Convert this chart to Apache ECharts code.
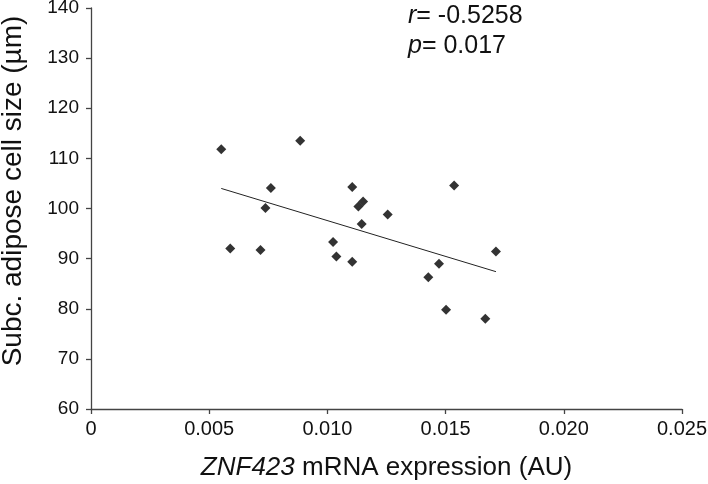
<!DOCTYPE html>
<html>
<head>
<meta charset="utf-8">
<script src="https://cdn.jsdelivr.net/npm/echarts@6/dist/echarts.min.js"></script>
<style>
html,body{margin:0;padding:0;background:#fff;}
#c{width:708px;height:484px;}
</style>
</head>
<body>
<div id="c"></div>
<script>
var xValues = [0.00551,0.00885,0.00761,0.00738,0.00589,0.00717,0.01105,0.01151,0.01131,0.01255,0.01145,0.01024,0.01038,0.01536,0.01713,0.01472,0.01427,0.01502,0.01668,0.01105];
var yValues = [111.8,113.5,104.1,100.1,92.0,91.7,104.3,101.4,100.4,98.8,96.9,93.3,90.4,104.6,91.4,89.0,86.3,79.8,78.0,89.4];
var trendX = [0.00551,0.01713];
var trendY = [104.0,87.4];
var xTicks = ['0','0.005','0.010','0.015','0.020','0.025'];
var annotR = '-0.5258';
var annotP = '0.017';

var chart = echarts.init(document.getElementById('c'));
var font = 'Liberation Sans, Arial, sans-serif';
var pts = xValues.map(function(x,i){return [x,yValues[i]];});
var line = trendX.map(function(x,i){return [x,trendY[i]];});
chart.setOption({
  animation:false,
  grid:{left:91,right:26,top:8,bottom:75,containLabel:false,outerBoundsMode:'none'},
  xAxis:{
    type:'value',min:0,max:0.025,interval:0.005,
    splitLine:{show:false},
    axisLine:{show:true,onZero:false,lineStyle:{color:'#444',width:1.3}},
    axisTick:{show:true,length:5,lineStyle:{color:'#444',width:1.3}},
    axisLabel:{color:'#111',fontSize:20,fontFamily:font,margin:10,
      formatter:function(v){var i=Math.round(v/0.005);return xTicks[i];}},
    name:'{i|ZNF423}{n| mRNA expression (AU)}',
    nameLocation:'middle',nameGap:46,
    nameTextStyle:{rich:{
      i:{fontStyle:'italic',fontSize:26,fontFamily:font,color:'#111'},
      n:{fontSize:26,fontFamily:font,color:'#111'}}}
  },
  yAxis:{
    type:'value',min:60,max:140,interval:10,
    splitLine:{show:false},
    axisLine:{show:true,lineStyle:{color:'#444',width:1.3}},
    axisTick:{show:true,length:5,lineStyle:{color:'#444',width:1.3}},
    axisLabel:{color:'#111',fontSize:19,fontFamily:font,margin:12}
  },
  series:[
    {type:'line',data:line,symbol:'none',lineStyle:{color:'#222',width:1},z:1},
    {type:'scatter',data:pts,symbol:'diamond',symbolSize:10,itemStyle:{color:'#000'},z:2}
  ],
  graphic:[
    {type:'text',x:13,y:191,rotation:Math.PI/2,style:{
      text:'Subc. adipose cell size (µm)',
      fontSize:28,fontFamily:font,fill:'#111',
      align:'center',verticalAlign:'middle'}},
    {type:'text',x:408,y:16,style:{
      text:'{i|r}= '+annotR,
      rich:{i:{fontStyle:'italic',fontSize:25,fontFamily:font,fill:'#111'}},
      fontSize:25,fontFamily:font,fill:'#111',verticalAlign:'middle'}},
    {type:'text',x:408,y:46,style:{
      text:'{i|p}= '+annotP,
      rich:{i:{fontStyle:'italic',fontSize:25,fontFamily:font,fill:'#111'}},
      fontSize:25,fontFamily:font,fill:'#111',verticalAlign:'middle'}}
  ]
});
</script>
</body>
</html>
